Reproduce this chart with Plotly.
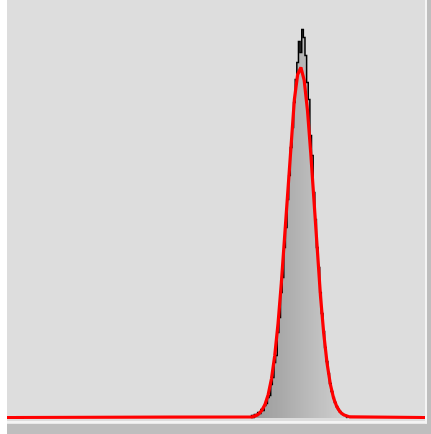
import plotly.graph_objects as go

# Histogram of intensities (bin index -> count)
hist_bins = list(range(150, 209))
hist_counts = [20, 0, 30, 20, 50, 40, 80, 70, 120, 140,
               200, 220, 330, 400, 550, 620, 850, 1000, 1250, 1400,
               1700, 1900, 2180, 2420, 2700, 2900, 3150, 3380, 3550, 3760,
               3650, 3880, 3800, 3620, 3350, 3180, 2820, 2620, 2250, 1980,
               1700, 1500, 1250, 1040, 860, 700, 560, 440, 340, 260,
               200, 150, 110, 80, 60, 40, 30, 20, 10]

# Gaussian fit curve samples
fit_x = [0, 150, 152, 154, 156, 158, 160, 162, 164, 166, 168, 170, 172, 174, 176, 178,
         180, 182, 184, 186, 188, 190, 192, 194, 196, 198, 200, 202, 204, 206, 208, 210, 256]
fit_y = [0, 7, 16, 34, 69, 129, 231, 390, 623, 940, 1342, 1811, 2310, 2788, 3180, 3430,
         3500, 3373, 3075, 2650, 2160, 1665, 1213, 836, 545, 335, 195, 108, 56, 28, 13, 6, 0]

def gray(i, n):
    t = i / max(n - 1, 1)
    v = int(round(0x98 + (0xd0 - 0x98) * t))
    return f"rgb({v},{v},{v})"

bar_colors = [gray(i, len(hist_bins)) for i in range(len(hist_bins))]

fig = go.Figure()
fig.add_trace(go.Bar(x=hist_bins, y=hist_counts, width=1.0,
                     marker=dict(color=bar_colors, line=dict(width=0)),
                     hoverinfo="skip"))
fig.add_trace(go.Scatter(x=[hist_bins[0] - 0.5] + hist_bins + [hist_bins[-1] + 0.5],
                         y=[0] + hist_counts + [0],
                         mode="lines", line=dict(color="black", width=1.5, shape="hvh"),
                         hoverinfo="skip"))
fig.add_trace(go.Scatter(x=fit_x, y=fit_y, mode="lines",
                         line=dict(color="#ff0000", width=3.2),
                         hoverinfo="skip"))

W, H = 431, 434
fig.update_layout(
    width=W, height=H,
    margin=dict(l=0, r=0, t=0, b=0, pad=0),
    paper_bgcolor="white",
    plot_bgcolor="#dddddd",
    showlegend=False,
    bargap=0,
    xaxis=dict(domain=[7 / W, 425 / W], range=[0, 256], visible=False, fixedrange=True),
    yaxis=dict(domain=[1 - 421 / H, 1], range=[-35, 4175], visible=False, fixedrange=True),
    shapes=[
        dict(type="rect", xref="paper", yref="paper", x0=427 / W, x1=1, y0=0, y1=1,
             fillcolor="#bebebe", line=dict(width=0), layer="above"),
        dict(type="rect", xref="paper", yref="paper", x0=7 / W, x1=1, y0=0, y1=1 - 423.5 / H,
             fillcolor="#bebebe", line=dict(width=0), layer="above"),
        dict(type="rect", xref="paper", yref="paper", x0=425 / W, x1=427 / W, y0=1 - 423.5 / H, y1=1,
             fillcolor="#f4f4f4", line=dict(width=0), layer="above"),
        dict(type="rect", xref="paper", yref="paper", x0=7 / W, x1=427 / W, y0=1 - 423.5 / H, y1=1 - 421 / H,
             fillcolor="#f4f4f4", line=dict(width=0), layer="above"),
    ],
)

fig.write_html("out.html")
